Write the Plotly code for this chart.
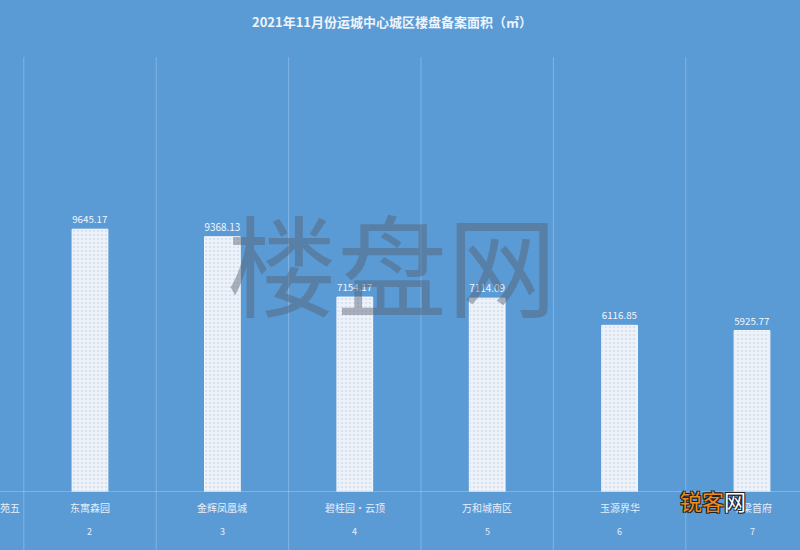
import plotly.graph_objects as go

categories = ["御景苑五", "东寓森园", "金辉凤凰城", "碧桂园·云顶", "万和城南区", "玉源界华", "中梁首府"]
ranks = ["1", "2", "3", "4", "5", "6", "7"]
areas = [11200.00, 9645.17, 9368.13, 7154.17, 7114.09, 6116.85, 5925.77]
title_text = "2021年11月份运城中心城区楼盘备案面积（㎡）"

FONT = "Noto Sans CJK SC"
BG = "#5b9bd5"
x_idx = list(range(len(categories)))

fig = go.Figure()
fig.add_trace(go.Bar(
    x=x_idx, y=areas, width=0.27,
    marker=dict(color="#e9eff7",
                line=dict(color="#f4f7fb", width=1),
                pattern=dict(shape=".", fgcolor="#c3d2e4", bgcolor="#eef3f9", size=4, solidity=0.35)),
    text=[f"{v:.2f}" for v in areas], textposition="outside",
    textfont=dict(family=FONT, size=10, color="#f2f6fb"),
    cliponaxis=False, hoverinfo="skip",
))

# category labels and rank numbers
for i, (c, r) in enumerate(zip(categories, ranks)):
    if i == 0:
        # first category sits left of the visible area: only its tail shows
        fig.add_annotation(x=22 / 800, y=-0.035, xref="paper", yref="paper", text=c, showarrow=False,
                           xanchor="right", font=dict(family=FONT, size=10, color="#e6eef8"),
                           yanchor="middle")
        continue
    fig.add_annotation(x=i, y=-0.035, xref="x", yref="paper", text=c, showarrow=False,
                       font=dict(family=FONT, size=10, color="#e6eef8"), yanchor="middle")
    fig.add_annotation(x=i, y=-0.09, xref="x", yref="paper", text=r, showarrow=False,
                       font=dict(family=FONT, size=9, color="#e6eef8"), yanchor="middle")

# category divider lines
for i in range(len(categories) - 1):
    fig.add_shape(type="line", x0=i + 0.5, x1=i + 0.5, xref="x", y0=-0.14, y1=1.0, yref="paper",
                  line=dict(color="#82b2e2", width=1), layer="below")

# axis line
fig.add_shape(type="line", x0=0, x1=1, xref="paper", y0=0, y1=0, yref="y",
              line=dict(color="#a9cbec", width=1))

# watermarks
fig.add_annotation(x=0.49, y=0.53, xref="paper", yref="paper", text="楼盘网", showarrow=False,
                   font=dict(family=FONT, size=110, color="rgba(85,95,110,0.45)"))
fig.add_annotation(x=678 / 800, y=-0.06, xref="paper", yref="paper", xanchor="left",
                   text="<span style='color:#f08a1c'>锐客</span><span style='color:#ffffff'>网</span>",
                   showarrow=False,
                   font=dict(family=FONT, size=22, color="#f08a1c",
                             shadow="-1px -1px 0 #222, 1px 1px 0 #222, 1px -1px 0 #222, -1px 1px 0 #222"))

fig.update_layout(
    width=800, height=550,
    margin=dict(l=0, r=0, t=57, b=58),
    paper_bgcolor=BG, plot_bgcolor=BG,
    showlegend=False,
    title=dict(text="<b>" + title_text + "</b>", x=0.49, xanchor="center", y=0.96, yanchor="middle",
               font=dict(family=FONT, size=13, color="#eef4fb")),
    xaxis=dict(range=[0.3203, 6.3625], showticklabels=False, showgrid=False, zeroline=False,
               tickmode="array", tickvals=x_idx),
    yaxis=dict(range=[0, 15966], showticklabels=False, showgrid=False, zeroline=False),
    bargap=0.7,
)

fig.write_html("out.html", config={"displayModeBar": False},
               post_script="document.body.style.margin='0';document.body.style.background='" + BG + "';")
